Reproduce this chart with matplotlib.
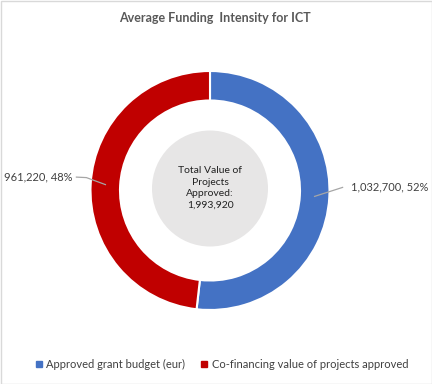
import numpy as np
import matplotlib
matplotlib.use("Agg")
import matplotlib.pyplot as plt
from matplotlib.lines import Line2D
from matplotlib.patches import Rectangle, Circle

plt.rcParams['font.family'] = ['Lato', 'DejaVu Sans']

title = "Average Funding  Intensity for ICT"
categories = ["Approved grant budget (eur)", "Co-financing value of projects approved"]
values = [1032700, 961220]
colors = ["#4472C4", "#C00000"]

W, H = 432, 384
fig = plt.figure(figsize=(W / 100, H / 100), dpi=100)
ax = fig.add_axes([0, 0, 1, 1])

cx, cy = 210, H - 190.5
R = 119.5
ring = 29.5

wedges, _ = ax.pie(values, colors=colors, startangle=90, counterclock=False,
                   radius=R, center=(cx, cy), frame=True,
                   wedgeprops=dict(width=ring, edgecolor='white', linewidth=1.5))
ax.set_xlim(0, W)
ax.set_ylim(0, H)
ax.set_aspect('equal')
ax.axis('off')

total = sum(values)
# center circle
ax.add_patch(Circle((cx, cy + 2), 58, facecolor="#E7E6E6", edgecolor='none'))
ax.text(cx, cy + 2.5, "Total Value of\nProjects\nApproved:\n" + f"{total:,}",
        ha='center', va='center', fontsize=7.5, color='#222222', linespacing=1.35)

# data labels with leader lines
rmid = R - ring / 2
for w, v in zip(wedges, values):
    ang = np.deg2rad((w.theta1 + w.theta2) / 2)
    px, py = cx + rmid * np.cos(ang), cy + rmid * np.sin(ang)
    pct = v / total * 100
    lab = f"{v:,}, {pct:.0f}%"
    if np.cos(ang) > 0:
        ex, ey = px + 28, py + 9
        ax.plot([px, ex], [py, ey], color='#A6A6A6', lw=0.9)
        ax.text(ex + 8, ey, lab, ha='left', va='center', fontsize=8, color='#404040')
    else:
        mx, my = px - 19, py + 7
        ex = mx - 10
        ax.plot([px, mx, ex], [py, my, my + 0.5], color='#A6A6A6', lw=0.9)
        ax.text(ex - 4, my + 0.5, lab, ha='right', va='center', fontsize=8, color='#404040')

ax.text(215, H - 18, title, ha='center', va='center', fontsize=9,
        fontweight='bold', color='#595959')

handles = [Line2D([], [], marker='s', linestyle='none', markersize=4.5,
                  markerfacecolor=c, markeredgecolor=c) for c in colors]
ax.legend(handles, categories, loc='center', bbox_to_anchor=(222 / W, 1 - 364 / H),
          ncol=2, frameon=False, fontsize=8, handlelength=0.6, handletextpad=0.4,
          columnspacing=1.4, labelcolor='#404040')

ax.add_patch(Rectangle((0.5, 0.5), W - 1, H - 1, fill=False, edgecolor='#D9D9D9', lw=1))

fig.savefig("out.png", dpi=100)
